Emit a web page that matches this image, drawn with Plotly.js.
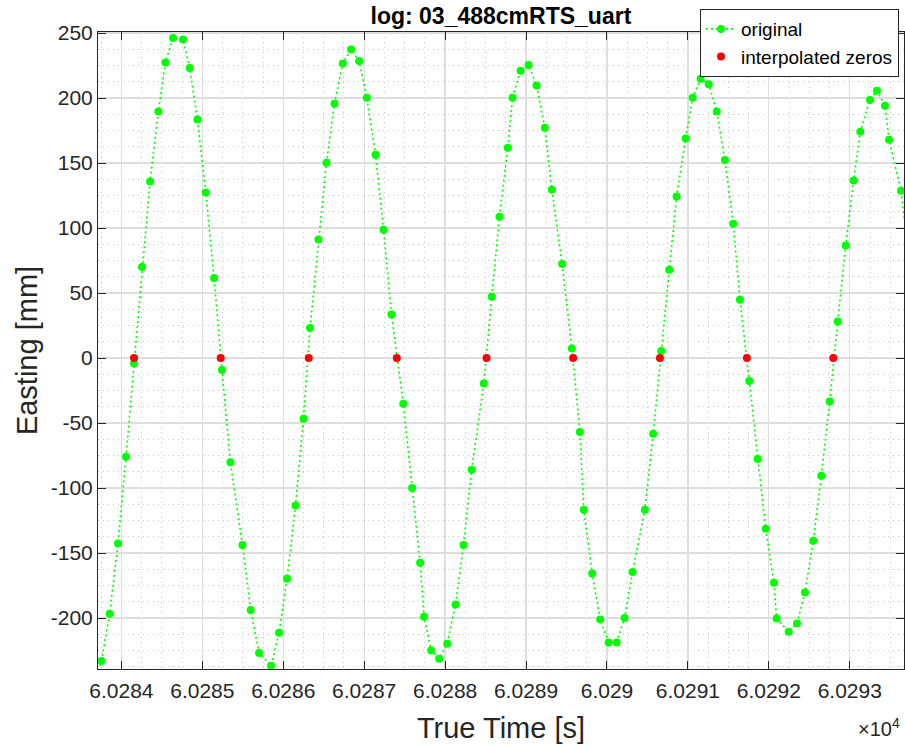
<!DOCTYPE html>
<html>
<head>
<meta charset="utf-8">
<script src="https://cdn.plot.ly/plotly-3.0.1.min.js"></script>
<style>
  html, body { margin: 0; padding: 0; background: #ffffff; }
  #chart { width: 905px; height: 749px; }
</style>
</head>
<body>
<div id="chart"></div>
<script>
// Easting samples from the RTS log (time in s, easting in mm)
var timeOriginal = [
  60283.654, 60283.753, 60283.855, 60283.958, 60284.057, 60284.156, 60284.255, 60284.354,
  60284.457, 60284.544, 60284.638, 60284.761, 60284.844, 60284.939, 60285.042, 60285.145,
  60285.243, 60285.347, 60285.496, 60285.598, 60285.701, 60285.849, 60285.948, 60286.047,
  60286.151, 60286.250, 60286.331, 60286.435, 60286.534, 60286.633, 60286.735, 60286.838,
  60286.937, 60287.032, 60287.140, 60287.239, 60287.337, 60287.483, 60287.592, 60287.691,
  60287.740, 60287.827, 60287.926, 60288.025, 60288.129, 60288.227, 60288.328, 60288.478,
  60288.577, 60288.672, 60288.775, 60288.833, 60288.932, 60289.031, 60289.130, 60289.232,
  60289.319, 60289.446, 60289.566, 60289.665, 60289.714, 60289.817, 60289.916, 60290.020,
  60290.119, 60290.217, 60290.316, 60290.468, 60290.571, 60290.670, 60290.769, 60290.860,
  60290.972, 60291.058, 60291.157, 60291.257, 60291.356, 60291.457, 60291.560, 60291.643,
  60291.758, 60291.862, 60291.961, 60292.063, 60292.096, 60292.245, 60292.347, 60292.446,
  60292.549, 60292.648, 60292.752, 60292.851, 60292.949, 60293.048, 60293.130, 60293.250,
  60293.336, 60293.435, 60293.485, 60293.633, 60293.732
];
var eastingOriginal = [
  -255.2, -233.1, -196.7, -142.6, -75.9, -4.2, 70.0, 135.8,
  189.7, 227.4, 246.2, 245.1, 223.1, 183.5, 127.4, 61.5,
  -9.2, -80.2, -143.8, -193.8, -226.9, -236.7, -211.3, -169.8,
  -113.4, -46.7, 23.1, 91.2, 150.2, 195.8, 226.6, 237.4,
  228.5, 200.2, 156.4, 98.7, 33.5, -35.2, -100.0, -157.5,
  -199.0, -224.9, -231.3, -219.8, -189.5, -143.8, -85.9, -19.5,
  47.2, 108.7, 161.8, 200.2, 221.0, 225.4, 209.7, 177.2,
  129.5, 72.3, 7.4, -56.9, -116.7, -165.7, -201.1, -218.8,
  -218.8, -200.0, -164.6, -116.7, -58.2, 5.4, 67.9, 124.3,
  168.9, 200.2, 214.8, 210.6, 189.7, 152.3, 103.3, 44.8,
  -17.7, -77.7, -131.3, -172.8, -200.3, -210.5, -204.2, -180.3,
  -140.5, -90.5, -33.4, 28.2, 86.6, 136.6, 174.1, 198.5,
  205.6, 194.1, 167.9, 128.7, 75.6
];

// Zero crossings found by linear interpolation between samples
var timeZeros = [
  60284.156, 60285.227, 60286.315, 60287.403, 60288.512,
  60289.582, 60290.654, 60291.729, 60292.796
];
var eastingZeros = [0, 0, 0, 0, 0, 0, 0, 0, 0];

// Axis ticks (time axis shown in units of 10^4 s)
var xTickValues = [60284, 60285, 60286, 60287, 60288, 60289, 60290, 60291, 60292, 60293];
var xTickLabels = ["6.0284", "6.0285", "6.0286", "6.0287", "6.0288", "6.0289", "6.029", "6.0291", "6.0292", "6.0293"];
var yTickValues = [-200, -150, -100, -50, 0, 50, 100, 150, 200, 250];
var yTickLabels = ["-200", "-150", "-100", "-50", "0", "50", "100", "150", "200", "250"];

var FONT = "Liberation Sans, Arial, Helvetica, sans-serif";
var INK = "#262626";

var traces = [
  {
    x: timeOriginal,
    y: eastingOriginal,
    name: "original",
    type: "scatter",
    mode: "lines+markers",
    line: { color: "#00ff00", width: 1.6, dash: "2px,3px" },
    marker: { color: "#00ff00", size: 8 },
    cliponaxis: true
  },
  {
    x: timeZeros,
    y: eastingZeros,
    name: "interpolated zeros",
    type: "scatter",
    mode: "markers",
    marker: { color: "#ff0000", size: 8 },
    cliponaxis: true
  }
];

var axisCommon = {
  showline: true,
  linecolor: INK,
  linewidth: 1,
  mirror: "ticks",
  ticks: "inside",
  ticklen: 8,
  tickwidth: 1,
  tickcolor: INK,
  showgrid: true,
  gridcolor: "#dedede",
  gridwidth: 1.3,
  zeroline: false,
  tickfont: { family: FONT, size: 21, color: INK },
  automargin: false,
  fixedrange: true
};

var layout = {
  width: 905,
  height: 749,
  paper_bgcolor: "#ffffff",
  plot_bgcolor: "#ffffff",
  margin: { l: 98, r: 1, t: 32, b: 80, pad: 0 },
  showlegend: true,
  title: {
    text: "log: 03_488cmRTS_uart",
    font: { family: FONT, size: 23, color: "#000000", weight: "bold" },
    x: 0.5535,
    xref: "container",
    xanchor: "center",
    y: 0.979,
    yref: "container",
    yanchor: "middle"
  },
  xaxis: Object.assign({}, axisCommon, {
    range: [60283.711, 60293.67],
    tickmode: "array",
    tickvals: xTickValues,
    ticktext: xTickLabels,
    ticklabelstandoff: 3,
    minor: { dtick: 0.25, showgrid: true, gridcolor: "#c8c8c8", gridwidth: 1, griddash: "1px,4px", ticks: "" },
    title: {
      text: "True Time [s]",
      font: { family: FONT, size: 29, color: INK },
      standoff: 16
    }
  }),
  yaxis: Object.assign({}, axisCommon, {
    range: [-239.2, 250.8],
    tickmode: "array",
    tickvals: yTickValues,
    ticktext: yTickLabels,
    minor: { dtick: 12.5, showgrid: true, gridcolor: "#c8c8c8", gridwidth: 1, griddash: "1px,4px", ticks: "" },
    title: {
      text: "Easting [mm]",
      font: { family: FONT, size: 29, color: INK },
      standoff: 4
    }
  }),
  legend: {
    x: 0.9938,
    xanchor: "right",
    y: 1.036,
    yanchor: "top",
    bgcolor: "#ffffff",
    bordercolor: INK,
    borderwidth: 1,
    font: { family: FONT, size: 19, color: "#000000" },
    tracegroupgap: 0
  },
  annotations: [
    {
      text: "\u00d710<sup>4</sup>",
      xref: "paper",
      yref: "paper",
      x: 0.997,
      y: -0.092,
      xanchor: "right",
      yanchor: "middle",
      showarrow: false,
      font: { family: FONT, size: 20, color: INK }
    }
  ]
};

Plotly.newPlot("chart", traces, layout, { staticPlot: true, displayModeBar: false });
</script>
</body>
</html>
